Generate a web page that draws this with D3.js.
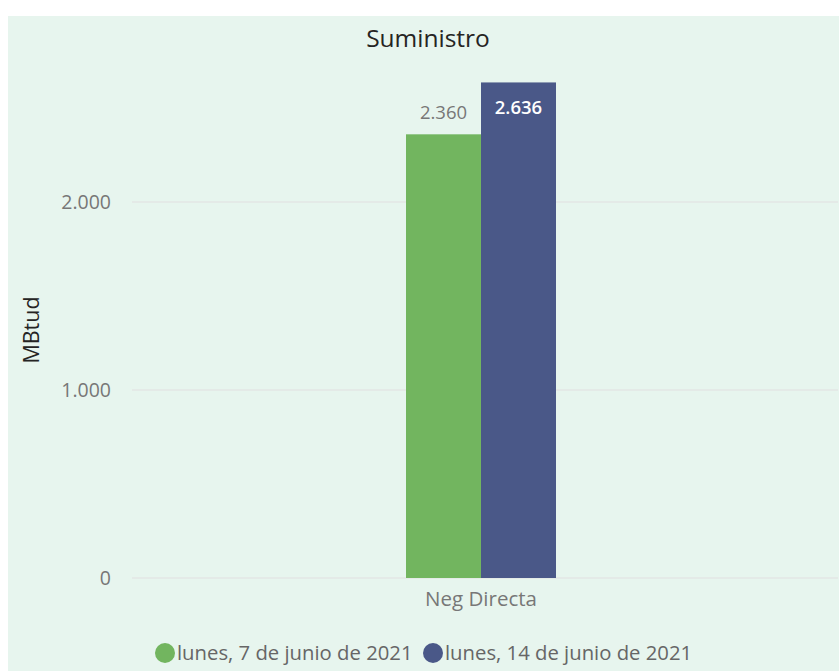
<!DOCTYPE html>
<html><head><meta charset="utf-8">
<script src="https://cdn.jsdelivr.net/npm/d3@7"></script>
<style>html,body{margin:0;padding:0;background:#fff;}svg{display:block;}</style>
</head><body>
<svg id="chart" width="839" height="671"></svg>
<script>
const categories = ["Neg Directa"];
const seriesNames = ["lunes, 7 de junio de 2021", "lunes, 14 de junio de 2021"];
const seriesValues = [[2360], [2636]];
const yTicks = [0, 1000, 2000];
const colors = ["#72b55f", "#4a5888"];

const W = 839, H = 671;
const svg = d3.select("#chart");
const font = "'Open Sans', 'Noto Sans', sans-serif";
const fmt = d3.formatLocale({decimal: ",", thousands: ".", grouping: [3], currency: ["", ""]}).format(",d");

svg.append("rect").attr("x", 8).attr("y", 16).attr("width", W - 8).attr("height", H - 16).attr("fill", "#e7f5ee");

const plotL = 132, plotR = 830, y0 = 578;
const y = d3.scaleLinear().domain([0, 1000]).range([y0, y0 - 188]);
const x0 = d3.scaleBand().domain(categories).range([plotL, plotR]).paddingInner(0).paddingOuter((698 / 150 - 1) / 2);
const x1 = d3.scaleBand().domain(seriesNames).range([0, x0.bandwidth()]).padding(0);

// gridlines
svg.append("g").selectAll("line").data(yTicks).join("line")
  .attr("x1", plotL).attr("x2", 838).attr("y1", d => y(d)).attr("y2", d => y(d))
  .attr("stroke", "#e3e6e4").attr("stroke-width", 1.5);

// y axis
const yAxis = d3.axisLeft(y).tickValues(yTicks).tickSize(0).tickPadding(21).tickFormat(fmt);
const gy = svg.append("g").attr("transform", `translate(${plotL},0)`).call(yAxis);
gy.select(".domain").remove();
gy.selectAll("text").attr("font-family", font).attr("font-size", 19.5).attr("fill", "#777");

// x axis
const xAxis = d3.axisBottom(x0).tickSize(0).tickPadding(13);
const gx = svg.append("g").attr("transform", `translate(0,${y0})`).call(xAxis);
gx.select(".domain").remove();
gx.selectAll("text").attr("font-family", font).attr("font-size", 20.5).attr("fill", "#777");

// bars
categories.forEach((c, ci) => {
  seriesNames.forEach((s, si) => {
    const v = seriesValues[si][ci];
    const bx = x0(c) + x1(s);
    svg.append("rect").attr("x", bx).attr("y", y(v)).attr("width", x1.bandwidth()).attr("height", y0 - y(v)).attr("fill", colors[si]);
    const inside = si === 1;
    svg.append("text").attr("x", bx + x1.bandwidth() / 2)
      .attr("y", inside ? y(v) + 32 : y(v) - 15)
      .attr("text-anchor", "middle").attr("font-family", font).attr("font-size", inside ? 18.5 : 18.5)
      .attr("font-weight", inside ? 600 : 400)
      .attr("fill", inside ? "#ffffff" : "#777")
      .text(fmt(v));
  });
});

// title
svg.append("text").attr("x", 428).attr("y", 47).attr("text-anchor", "middle")
  .attr("font-family", font).attr("font-size", 24.5).attr("fill", "#252423").text("Suministro");

// y label
svg.append("text").attr("transform", "translate(39,330) rotate(-90)").attr("text-anchor", "middle")
  .attr("font-family", font).attr("font-size", 21.5).attr("fill", "#252423").text("MBtud");

// legend
const legX = [165, 433];
seriesNames.forEach((s, i) => {
  svg.append("circle").attr("cx", legX[i]).attr("cy", 653).attr("r", 10).attr("fill", colors[i]);
  svg.append("text").attr("x", legX[i] + 12).attr("y", 660).attr("font-family", font).attr("font-size", 20.3)
    .attr("fill", "#666").text(s);
});
</script>
</body></html>
